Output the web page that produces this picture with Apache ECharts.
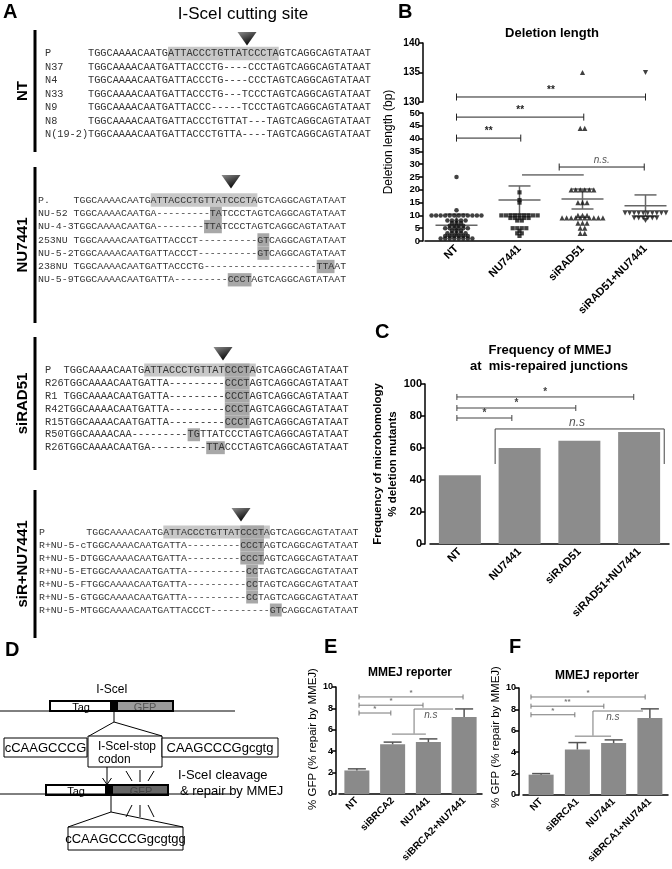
<!DOCTYPE html>
<html><head><meta charset="utf-8">
<script src="https://cdn.jsdelivr.net/npm/echarts@6/dist/echarts.min.js"></script>
<style>html,body{margin:0;padding:0;background:#fff}#c{width:672px;height:869px}</style>
</head><body><div id="c"></div>
<script>
// ---------------- DATA ----------------
// Panel A: sequences
const ntLabels = ['P','N37','N4','N33','N9','N8','N(19-2)'];
const ntSeqs = [
 'TGGCAAAACAATGATTACCCTGTTATCCCTAGTCAGGCAGTATAAT',
 'TGGCAAAACAATGATTACCCTG----CCCTAGTCAGGCAGTATAAT',
 'TGGCAAAACAATGATTACCCTG----CCCTAGTCAGGCAGTATAAT',
 'TGGCAAAACAATGATTACCCTG---TCCCTAGTCAGGCAGTATAAT',
 'TGGCAAAACAATGATTACCC-----TCCCTAGTCAGGCAGTATAAT',
 'TGGCAAAACAATGATTACCCTGTTAT---TAGTCAGGCAGTATAAT',
 'TGGCAAAACAATGATTACCCTGTTA----TAGTCAGGCAGTATAAT'];
const ntHighlights = [[0,13,31,'l']];
const nuLabels = ['P.','NU-52','NU-4-3','253NU','NU-5-2','238NU','NU-5-9'];
const nuSeqs = [
 'TGGCAAAACAATGATTACCCTGTTATCCCTAGTCAGGCAGTATAAT',
 'TGGCAAAACAATGA---------TATCCCTAGTCAGGCAGTATAAT',
 'TGGCAAAACAATGA--------TTATCCCTAGTCAGGCAGTATAAT',
 'TGGCAAAACAATGATTACCCT----------GTCAGGCAGTATAAT',
 'TGGCAAAACAATGATTACCCT----------GTCAGGCAGTATAAT',
 'TGGCAAAACAATGATTACCCTG-------------------TTAAT',
 'TGGCAAAACAATGATTA---------CCCTAGTCAGGCAGTATAAT'];
const nuHighlights = [[0,13,31,'l'],[1,23,25,'d'],[2,22,25,'d'],[3,31,33,'d'],[4,31,33,'d'],[5,41,44,'d'],[6,26,30,'d']];
const siRadLabels = ['P','R26','R1','R42','R15','R50','R26'];
const siRadSeqs = [
 'TGGCAAAACAATGATTACCCTGTTATCCCTAGTCAGGCAGTATAAT',
 'TGGCAAAACAATGATTA---------CCCTAGTCAGGCAGTATAAT',
 'TGGCAAAACAATGATTA---------CCCTAGTCAGGCAGTATAAT',
 'TGGCAAAACAATGATTA---------CCCTAGTCAGGCAGTATAAT',
 'TGGCAAAACAATGATTA---------CCCTAGTCAGGCAGTATAAT',
 'TGGCAAAACAA---------TGTTATCCCTAGTCAGGCAGTATAAT',
 'TGGCAAAACAATGA---------TTACCCTAGTCAGGCAGTATAAT'];
const siRadHighlights = [[0,13,31,'l'],[0,26,30,'d'],[1,26,30,'d'],[2,26,30,'d'],[3,26,30,'d'],[4,26,30,'d'],[5,20,22,'d'],[6,23,26,'d']];
const siRNuLabels = ['P','R+NU-5-c','R+NU-5-D','R+NU-5-E','R+NU-5-F','R+NU-5-G','R+NU-5-M'];
const siRNuSeqs = [
 'TGGCAAAACAATGATTACCCTGTTATCCCTAGTCAGGCAGTATAAT',
 'TGGCAAAACAATGATTA---------CCCTAGTCAGGCAGTATAAT',
 'TGGCAAAACAATGATTA---------CCCTAGTCAGGCAGTATAAT',
 'TGGCAAAACAATGATTA----------CCTAGTCAGGCAGTATAAT',
 'TGGCAAAACAATGATTA----------CCTAGTCAGGCAGTATAAT',
 'TGGCAAAACAATGATTA----------CCTAGTCAGGCAGTATAAT',
 'TGGCAAAACAATGATTACCCT----------GTCAGGCAGTATAAT'];
const siRNuHighlights = [[0,13,31,'l'],[0,26,30,'d'],[1,26,30,'d'],[2,26,30,'d'],[3,27,29,'d'],[4,27,29,'d'],[5,27,29,'d'],[6,31,33,'d']];

// Panel B: deletion lengths (bp)
const bCategories = ['NT','NU7441','siRAD51','siRAD51+NU7441'];
const ntDeletions = [25,12,10,10,10,10,10,10,10,10,10,10,10,10,8,8,8,8,8,7,7,7,6,6,6,6,5,5,5,5,5,5,4,4,4,3,3,3,3,3,2,2,2,2,2,2,1,1,1,1,1,1,1,1];
const nu7441Deletions = [19,16,15,10,10,10,10,10,10,10,10,10,9,9,9,9,9,8,8,5,5,5,5,4,3,3,2];
const siRAD51Deletions = [135,44,44,20,20,20,20,20,20,15,15,15,10,10,10,9,9,9,9,9,9,9,9,9,9,7,7,7,5,5,3,3];
const comboDeletions = [135,11,11,11,11,11,11,11,11,11,11,9,9,9,9,9,9,8];
const bMeans = [6.2, 16, 16.4, 13.8];
const bUpper = [10.5, 21.5, 20.3, 18];
const bLower = [1.9, 10.5, 12.5, 9.6];
const bUpperBrackets = [{x1:0,x2:3,y:130.85,label:'**',kind:'caps'}];
const bLowerBrackets = [
 {x1:0,x2:2.02,y:48.4,label:'**',kind:'caps'},
 {x1:0,x2:1.02,y:40.2,label:'**',kind:'caps'},
 {x1:1.04,x2:2.02,y:25.8,label:'',kind:'plain'},
 {x1:1.63,x2:2.98,y:28.9,label:'n.s.',kind:'caps',italic:true}];

// Panel C
const cCategories = ['NT','NU7441','siRAD51','siRAD51+NU7441'];
const cValues = [43, 60, 64.5, 70];
const cBrackets = [
 {x1:-0.05,x2:2.91,y:91.9,label:'*',kind:'caps'},
 {x1:-0.05,x2:1.94,y:85,label:'*',kind:'caps'},
 {x1:-0.05,x2:0.87,y:78.75,label:'*',kind:'caps'},
 {x1:0.59,x2:3.42,y:71.9,leg:50,label:'n.s',kind:'legs',italic:true,tx:1.96,ty:76}];

// Panel E
const eCategories = ['NT','siBRCA2','NU7441','siBRCA2+NU7441'];
const eValues = [2.2, 4.65, 4.85, 7.2];
const eErrors = [0.15, 0.2, 0.3, 0.75];
const eBrackets = [
 {x1:0.06,x2:2.97,y:9.07,label:'*',kind:'caps'},
 {x1:0.06,x2:1.85,y:8.3,label:'*',kind:'caps'},
 {x1:0.06,x2:0.95,y:7.57,label:'*',kind:'caps'},
 {x1:0.98,x2:1.93,y:5.6,label:'',kind:'plain'},
 {x1:1.6,x2:2.69,y:7.94,leg:5.65,label:'n.s',kind:'L',italic:true,tx:2.07,ty:7.4}];

// Panel F
const fCategories = ['NT','siBRCA1','NU7441','siBRCA1+NU7441'];
const fValues = [1.9, 4.25, 4.85, 7.2];
const fErrors = [0.1, 0.65, 0.3, 0.85];
const fBrackets = [
 {x1:-0.28,x2:2.87,y:9.16,label:'*',kind:'caps'},
 {x1:-0.28,x2:1.73,y:8.3,label:'**',kind:'caps'},
 {x1:-0.28,x2:0.93,y:7.5,label:'*',kind:'caps'},
 {x1:0.93,x2:1.93,y:5.5,label:'',kind:'plain'},
 {x1:1.43,x2:2.81,y:7.85,leg:5.55,label:'n.s',kind:'L',italic:true,tx:1.98,ty:7.3}];

// ---------------- RENDER ----------------
const SANS = '"Liberation Sans", Arial, sans-serif';
const MONO = '"Liberation Mono", "DejaVu Sans Mono", monospace';
const els = [];
function T(text, x, y, font, opt) {
  opt = opt || {};
  els.push({type:'text', x:x, y:y, rotation:opt.rot||0, z:opt.z||10, silent:true,
    style:{text:text, font:font, fill:opt.fill||'#000', align:opt.align||'left', verticalAlign:opt.va||'middle',
      textAlign:opt.align||'left', textVerticalAlign:opt.va||'middle'}});
}
function R(x,y,w,h,fill,stroke,lw,z) {
  els.push({type:'rect', z:z||5, silent:true, shape:{x:x,y:y,width:w,height:h},
    style:{fill:fill||'none', stroke:stroke||'none', lineWidth:lw||0}});
}
function L(x1,y1,x2,y2,lw,color,z) {
  els.push({type:'line', z:z||6, silent:true, shape:{x1:x1,y1:y1,x2:x2,y2:y2}, style:{stroke:color||'#000', lineWidth:lw||1}});
}
function PL(points, lw, color) {
  els.push({type:'polyline', z:6, silent:true, shape:{points:points}, style:{stroke:color||'#000', lineWidth:lw||1, fill:'none'}});
}

// Panel A layout
const groupsA = [
 {labels:ntLabels, seqs:ntSeqs, hl:ntHighlights, name:'NT', x:45, pad:7, cw:6.15, y0:53.5, dy:13.5, bar:[30,152], tri:[247,32]},
 {labels:nuLabels, seqs:nuSeqs, hl:nuHighlights, name:'NU7441', x:38, pad:6, cw:5.93, y0:200, dy:13.3, bar:[167,323], tri:[231,175]},
 {labels:siRadLabels, seqs:siRadSeqs, hl:siRadHighlights, name:'siRAD51', x:45, pad:3, cw:6.2, y0:370, dy:12.95, bar:[337,470], tri:[223,347]},
 {labels:siRNuLabels, seqs:siRNuSeqs, hl:siRNuHighlights, name:'siR+NU7441', x:39, pad:8, cw:5.92, y0:532, dy:13.0, bar:[490,638], tri:[241,508]}
];
groupsA.forEach(function(g){
  const fs = g.cw/0.6;
  g.hl.forEach(function(h){
    R(g.x+(g.pad+h[1])*g.cw, g.y0+h[0]*g.dy-g.dy/2, (h[2]-h[1])*g.cw, g.dy, h[3]==='d'?'#a8a8a8':'#c8c8c8', 'none', 0, h[3]==='d'?4:3);
  });
  g.seqs.forEach(function(s,i){
    let lab = g.labels[i]; while (lab.length < g.pad) lab += ' ';
    T(lab+s, g.x, g.y0+i*g.dy, fs.toFixed(2)+'px '+MONO, {fill:'#333'});
  });
  L(35, g.bar[0], 35, g.bar[1], 3);
  T(g.name, 23, (g.bar[0]+g.bar[1])/2, 'bold 15px '+SANS, {rot:Math.PI/2, align:'center'});
  const cx=g.tri[0], ty=g.tri[1];
  els.push({type:'polygon', z:7, silent:true, shape:{points:[[cx-9.5,ty],[cx+9.5,ty],[cx,ty+13.5]]},
    style:{fill:{type:'linear',x:0,y:0,x2:0.3,y2:1,colorStops:[{offset:0,color:'#8c8c8c'},{offset:1,color:'#141414'}]}}});
});
T('A', 3, 12, 'bold 20px '+SANS);
T('I-SceI cutting site', 243, 14, '17px '+SANS, {align:'center'});

// Titles & letters
T('B', 398, 12, 'bold 20px '+SANS);
T('Deletion length', 552, 33, 'bold 13px '+SANS, {align:'center'});
T('Deletion length (bp)', 389, 142, '12px '+SANS, {rot:Math.PI/2, align:'center'});
T('C', 375, 332, 'bold 20px '+SANS);
T('Frequency of MMEJ', 550, 350, 'bold 13px '+SANS, {align:'center'});
T('at  mis-repaired junctions', 549, 366, 'bold 13px '+SANS, {align:'center'});
T('Frequency of microhomology', 378, 464, 'bold 11.5px '+SANS, {rot:Math.PI/2, align:'center'});
T('% deletion mutants', 393, 464, 'bold 11.5px '+SANS, {rot:Math.PI/2, align:'center'});
T('E', 324, 647, 'bold 20px '+SANS);
T('F', 509, 647, 'bold 20px '+SANS);
T('MMEJ reporter', 410, 673, 'bold 12px '+SANS, {align:'center'});
T('MMEJ reporter', 597, 676, 'bold 12px '+SANS, {align:'center'});
T('% GFP (% repair by MMEJ)', 313, 739, '11.5px '+SANS, {rot:Math.PI/2, align:'center'});
T('% GFP (% repair by MMEJ)', 496, 737, '11.5px '+SANS, {rot:Math.PI/2, align:'center'});

// Panel D diagram
T('D', 5, 650, 'bold 20px '+SANS);
T('I-SceI', 112, 690, '12px '+SANS, {align:'center'});
L(0, 711, 235, 711, 1);
R(50, 701, 60, 10, '#fff', 'none', 0, 5);
R(110, 701, 8, 10, '#000', 'none', 0, 5);
R(118, 701, 55, 10, '#9a9a9a', 'none', 0, 5);
T('Tag', 81, 708, '11px '+SANS, {align:'center', z:8});
T('GFP', 145, 708, '11px '+SANS, {align:'center', fill:'#555', z:8});
R(50, 701, 123, 10, 'none', '#000', 2, 9);
L(114, 711, 114, 722, 1);
PL([[89,736],[114,722],[162,736]], 1);
R(4, 738, 83, 19, '#fff', '#000', 1, 5);
T('cCAAGCCCG', 45.5, 748, '13px '+SANS, {align:'center'});
R(88, 736, 74, 31, '#fff', '#000', 1, 5);
T('I-SceI-stop', 98, 747, '12px '+SANS);
T('codon', 98, 760, '12px '+SANS);
R(162, 738, 116, 19, '#fff', '#000', 1, 5);
T('CAAGCCCGgcgtg', 220, 748, '13px '+SANS, {align:'center'});
L(107, 767, 107, 784, 1);
PL([[102.5,778],[107,784.5],[111.5,778]], 1);
L(126, 771, 132, 781, 1); L(140, 770, 140, 782, 1); L(154, 771, 148, 781, 1);
L(132, 805, 126, 817, 1); L(140, 805, 140, 817, 1); L(148, 805, 154, 817, 1);
T('I-SceI cleavage', 178, 775, '13px '+SANS);
T('& repair by MMEJ', 180, 791, '13px '+SANS);
L(0, 794, 232, 794, 1);
R(46, 785, 59, 10, '#fff', 'none', 0, 5);
R(105, 785, 8, 10, '#000', 'none', 0, 5);
R(113, 785, 55, 10, '#666', 'none', 0, 5);
T('Tag', 76, 792, '11px '+SANS, {align:'center', z:8});
T('GFP', 141, 792, '11px '+SANS, {align:'center', fill:'#444', z:8});
R(46, 785, 122, 10, 'none', '#000', 2, 9);
L(111, 795, 111, 812, 1);
PL([[68,827],[111,812],[183,827]], 1);
R(68, 827, 115, 23, '#fff', '#000', 1, 5);
T('cCAAGCCCGgcgtgg', 125.5, 839, '13px '+SANS, {align:'center'});

// ---------- helpers for chart ----------
function swarm(values, idx, lo, hi, step) {
  const groups = {};
  values.forEach(function(v){ if (v>=lo && v<=hi) { (groups[v] = groups[v] || []).push(v); } });
  const out = [];
  Object.keys(groups).forEach(function(k){
    const n = groups[k].length;
    for (let i=0;i<n;i++) out.push([idx + (i-(n-1)/2)*step, +k]);
  });
  return out;
}
function bracketSeries(items, xIdx, yIdx, st) {
  return {type:'custom', xAxisIndex:xIdx, yAxisIndex:yIdx, clip:false, z:5, silent:true,
    data: items.map(function(b){ return [b.x1, b.y]; }), encode:{x:0, y:1},
    renderItem: function(params, api) {
      const b = items[params.dataIndex];
      const p1 = api.coord([b.x1, b.y]), p2 = api.coord([b.x2, b.y]);
      const ch = [];
      const ln = function(a,c,d,e){ return {type:'line', shape:{x1:a,y1:c,x2:d,y2:e}, style:{stroke:st.color, lineWidth:st.lw}}; };
      ch.push(ln(p1[0],p1[1],p2[0],p1[1]));
      if (b.kind==='caps') { ch.push(ln(p1[0],p1[1]-st.cap,p1[0],p1[1]+st.cap)); ch.push(ln(p2[0],p2[1]-st.cap,p2[0],p2[1]+st.cap)); }
      if (b.kind==='legs') { const q = api.coord([b.x1,b.leg]); ch.push(ln(p1[0],p1[1],p1[0],q[1])); ch.push(ln(p2[0],p2[1],p2[0],q[1])); }
      if (b.kind==='L') { const q = api.coord([b.x1,b.leg]); ch.push(ln(p1[0],p1[1],p1[0],q[1])); }
      if (b.label) {
        let tx=(p1[0]+p2[0])/2, ty=p1[1]-st.gap;
        if (b.tx!==undefined) { const t = api.coord([b.tx,b.ty]); tx=t[0]; ty=t[1]; }
        ch.push({type:'text', x:tx, y:ty, style:{text:b.label, font:b.italic?st.ifont:st.font, fill:b.italic?st.icolor:st.color,
          align:'center', verticalAlign:'middle', textAlign:'center', textVerticalAlign:'middle'}});
      }
      return {type:'group', children:ch};
    }};
}
function errSeries(vals, errs, xIdx, yIdx, half) {
  return {type:'custom', xAxisIndex:xIdx, yAxisIndex:yIdx, clip:false, z:4, silent:true,
    data: vals.map(function(v,i){ return [i, v, errs[i]]; }), encode:{x:0, y:1},
    renderItem: function(params, api) {
      const i = api.value(0), v = api.value(1), e = api.value(2);
      const a = api.coord([i, v]), b = api.coord([i, v+e]);
      const s = {stroke:'#555', lineWidth:1.5};
      return {type:'group', children:[
        {type:'line', shape:{x1:a[0],y1:a[1],x2:b[0],y2:b[1]}, style:s},
        {type:'line', shape:{x1:b[0]-half,y1:b[1],x2:b[0]+half,y2:b[1]}, style:s}]};
    }};
}
function valX(grid){ return {type:'value', gridIndex:grid, min:-0.5, max:3.5, show:false, splitLine:{show:false}}; }
function catX(grid, cats, fs, margin){
  return {type:'category', gridIndex:grid, data:cats,
    axisLine:{onZero:false, lineStyle:{color:'#000', width:1.5}},
    axisTick:{alignWithLabel:true, length:4, lineStyle:{color:'#000', width:1.5}},
    axisLabel:{interval:0, rotate:45, margin:margin, color:'#000', fontWeight:'bold', fontSize:fs, fontFamily:'Liberation Sans'},
    splitLine:{show:false}};
}
function valY(grid, min, max, interval, fs, offset){
  return {type:'value', gridIndex:grid, min:min, max:max, interval:interval, offset:offset, position:'left',
    axisLine:{show:true, onZero:false, lineStyle:{color:'#000', width:1.5}},
    axisTick:{show:true, length:4, lineStyle:{color:'#000', width:1.5}},
    axisLabel:{color:'#000', fontWeight:'bold', fontSize:fs, margin:3, fontFamily:'Liberation Sans'},
    splitLine:{show:false}};
}
const G = function(l,t,w,h){ return {left:l, top:t, width:w, height:h, containLabel:false, outerBoundsMode:'none'}; };

const bGroups = [ntDeletions, nu7441Deletions, siRAD51Deletions, comboDeletions];
const bSymbols = ['circle','rect','triangle','triangle'];
const bRot = [0,0,0,180];
const bSize = [4.5,4.2,5.2,5.2];

const series = [];
// B mean / SD
series.push({type:'custom', xAxisIndex:2, yAxisIndex:1, z:1, silent:true,
  data: bMeans.map(function(m,i){ return [i, m, bUpper[i], bLower[i]]; }), encode:{x:0,y:1},
  renderItem: function(params, api){
    const i = api.value(0);
    const m = api.coord([i, api.value(1)]), u = api.coord([i, api.value(2)]), l = api.coord([i, api.value(3)]);
    const s = {stroke:'#666', lineWidth:1.5};
    return {type:'group', children:[
      {type:'line', shape:{x1:m[0]-21,y1:m[1],x2:m[0]+21,y2:m[1]}, style:s},
      {type:'line', shape:{x1:u[0],y1:u[1],x2:l[0],y2:l[1]}, style:s},
      {type:'line', shape:{x1:u[0]-11,y1:u[1],x2:u[0]+11,y2:u[1]}, style:s},
      {type:'line', shape:{x1:l[0]-11,y1:l[1],x2:l[0]+11,y2:l[1]}, style:s}]};
  }});
bGroups.forEach(function(vals, gi){
  const lower = swarm(vals, gi, 0, 50, 0.072);
  const upper = swarm(vals, gi, 130, 140, 0.072);
  series.push({type:'scatter', xAxisIndex:2, yAxisIndex:1, data:lower, symbol:bSymbols[gi], symbolRotate:bRot[gi], symbolSize:bSize[gi], itemStyle:{color:'#111'}, z:3, silent:true});
  if (upper.length) series.push({type:'scatter', xAxisIndex:0, yAxisIndex:0, data:upper, symbol:bSymbols[gi], symbolRotate:bRot[gi], symbolSize:bSize[gi], itemStyle:{color:'#111'}, z:3, silent:true});
});
const bSt = {color:'#222', lw:1, cap:3.5, gap:7, font:'bold 10px '+SANS, ifont:'italic 10px '+SANS, icolor:'#555'};
series.push(bracketSeries(bUpperBrackets, 0, 0, bSt));
series.push(bracketSeries(bLowerBrackets, 2, 1, bSt));
// C
series.push({type:'bar', xAxisIndex:3, yAxisIndex:2, data:cValues, barWidth:42, itemStyle:{color:'#8c8c8c'}, silent:true});
series.push(bracketSeries(cBrackets, 4, 2, {color:'#444', lw:1, cap:3, gap:5, font:'bold 10px '+SANS, ifont:'italic 12px '+SANS, icolor:'#555'}));
// E
series.push({type:'bar', xAxisIndex:5, yAxisIndex:3, data:eValues, barWidth:25, itemStyle:{color:'#8a8a8a'}, silent:true});
series.push(errSeries(eValues, eErrors, 6, 3, 9));
series.push(bracketSeries(eBrackets, 6, 3, {color:'#777', lw:1, cap:2.5, gap:4, font:'bold 8px '+SANS, ifont:'italic 10px '+SANS, icolor:'#555'}));
// F
series.push({type:'bar', xAxisIndex:7, yAxisIndex:4, data:fValues, barWidth:25, itemStyle:{color:'#8a8a8a'}, silent:true});
series.push(errSeries(fValues, fErrors, 8, 4, 9));
series.push(bracketSeries(fBrackets, 8, 4, {color:'#777', lw:1, cap:2.5, gap:4, font:'bold 8px '+SANS, ifont:'italic 10px '+SANS, icolor:'#555'}));

const option = {
  animation:false, backgroundColor:'#fff',
  textStyle:{fontFamily:'Liberation Sans'},
  grid:[G(425,43,252,59), G(425,113,252,128), G(430,384,239,160), G(339,687,143,107), G(523,688,145,107)],
  xAxis:[valX(0), catX(1,bCategories,11,6), valX(1), catX(2,cCategories,11,6), valX(2), catX(3,eCategories,10,5), valX(3), catX(4,fCategories,10,5), valX(4)],
  yAxis:[valY(0,130,140,5,10,2), valY(1,0,50,5,9.5,2), valY(2,0,100,20,11,5), valY(3,0,10,2,9,3), valY(4,0,10,2,9,4)],
  graphic:{elements:els},
  series:series
};
const chart = echarts.init(document.getElementById('c'), null, {renderer:'canvas', width:672, height:869});
chart.setOption(option);
</script></body></html>
